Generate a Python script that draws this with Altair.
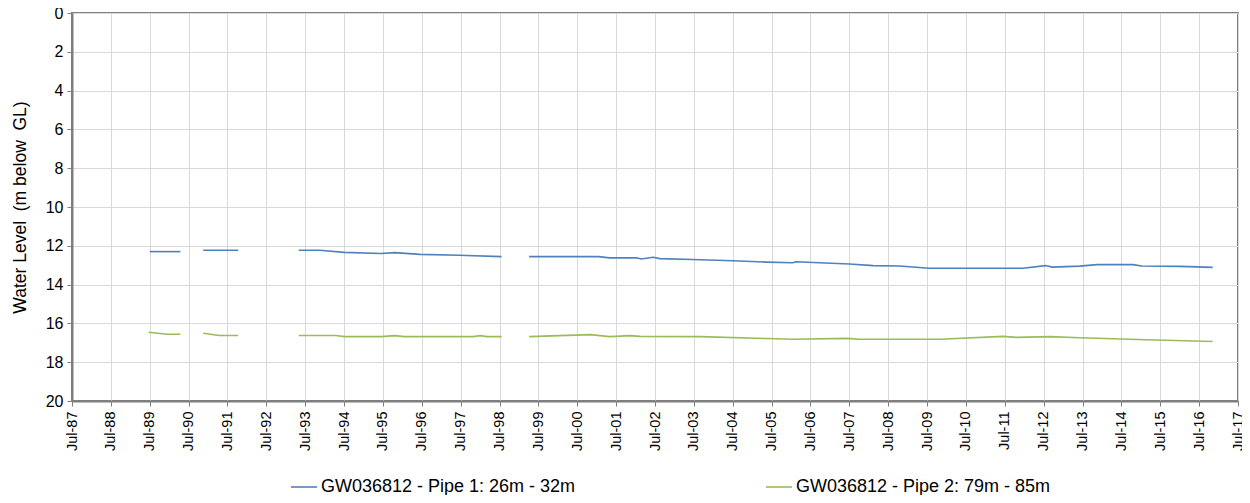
import altair as alt
import pandas as pd

# Pipe 1 (26m - 32m) segments: dates and water level (m below GL)
p1_seg = [1, 1, 2, 2,
          3, 3, 3, 3, 3, 3, 3, 3,
          4, 4, 4, 4, 4, 4, 4, 4, 4, 4, 4, 4, 4, 4, 4, 4, 4, 4, 4, 4, 4, 4, 4, 4, 4]
p1_date = ["1989-07-01", "1990-04-15", "1990-11-15", "1991-10-10",
           "1993-05-01", "1993-11-15", "1994-07-01", "1995-06-15", "1995-10-20", "1996-06-15", "1997-06-15", "1998-07-20",
           "1999-04-05", "2001-01-15", "2001-05-01", "2002-01-10", "2002-02-20", "2002-06-15", "2002-08-15",
           "2003-06-15", "2004-07-01", "2005-05-15", "2006-01-15", "2006-02-15", "2007-07-01", "2008-02-10",
           "2008-10-15", "2009-07-20", "2011-12-20", "2012-07-15", "2012-09-20", "2013-06-01", "2013-11-15",
           "2014-10-15", "2015-01-10", "2016-01-01", "2016-11-05"]
p1_val = [12.30, 12.30, 12.23, 12.23,
          12.23, 12.23, 12.34, 12.40, 12.35, 12.44, 12.49, 12.56,
          12.56, 12.56, 12.62, 12.62, 12.68, 12.59, 12.66,
          12.71, 12.77, 12.84, 12.87, 12.82, 12.94, 13.02,
          13.04, 13.16, 13.16, 13.02, 13.10, 13.05, 12.97,
          12.97, 13.04, 13.06, 13.11]

# Pipe 2 (79m - 85m) segments
p2_seg = [1, 1, 1, 2, 2, 2,
          3, 3, 3, 3, 3, 3, 3, 3, 3, 3,
          4, 4, 4, 4, 4, 4, 4, 4, 4, 4, 4, 4, 4, 4, 4, 4, 4, 4]
p2_date = ["1989-06-20", "1989-12-10", "1990-04-15", "1990-11-15", "1991-04-15", "1991-10-10",
           "1993-05-01", "1994-04-15", "1994-07-01", "1995-06-15", "1995-10-20", "1996-01-20",
           "1997-10-25", "1998-01-01", "1998-03-05", "1998-07-20",
           "1999-04-05", "2000-01-15", "2000-11-01", "2001-05-01", "2001-11-10", "2002-02-10",
           "2003-09-01", "2005-05-15", "2006-01-20", "2007-06-10", "2007-10-10", "2009-10-30",
           "2011-06-15", "2011-10-20", "2012-09-01", "2013-06-01", "2015-02-20", "2016-11-05"]
p2_val = [16.46, 16.56, 16.56, 16.51, 16.62, 16.62,
          16.62, 16.62, 16.68, 16.68, 16.63, 16.68,
          16.68, 16.63, 16.68, 16.68,
          16.68, 16.63, 16.58, 16.68, 16.63, 16.67,
          16.68, 16.78, 16.82, 16.77, 16.82, 16.82,
          16.67, 16.72, 16.68, 16.74, 16.84, 16.93]

series_names = ["GW036812 - Pipe 1: 26m - 32m", "GW036812 - Pipe 2: 79m - 85m"]
series_colors = ["#4f81bd", "#9bbb59"]
y_ticks = list(range(0, 21, 2))
x_tick_years = list(range(1987, 2018))
y_title = "Water Level\u00a0\u00a0(m below\u00a0\u00a0GL)"

df = pd.concat([
    pd.DataFrame({"series": series_names[0], "seg": [f"a{s}" for s in p1_seg],
                  "date": p1_date, "level": p1_val}),
    pd.DataFrame({"series": series_names[1], "seg": [f"b{s}" for s in p2_seg],
                  "date": p2_date, "level": p2_val}),
], ignore_index=True)

def ms(y, m=7, d=1):
    return int(pd.Timestamp(year=y, month=m, day=d, tz="UTC").timestamp() * 1000)

x_vals = [ms(y) for y in x_tick_years]

chart = alt.Chart(df).mark_line(strokeWidth=1.6).encode(
    x=alt.X("date:T",
            scale=alt.Scale(type="utc", domain=[ms(1987), ms(2017)], nice=False),
            axis=alt.Axis(values=x_vals, labelExpr="utcFormat(datum.value, '%b-%y')",
                          labelAngle=-90, title=None, labelFontSize=14.5, tickSize=5,
                          labelPadding=5, grid=True, labelOverlap=False, labelBound=False)),
    y=alt.Y("level:Q",
            scale=alt.Scale(domain=[0, 20], reverse=True, nice=False, zero=False),
            axis=alt.Axis(values=y_ticks, title=y_title,
                          labelFontSize=16, titleFontSize=17.5, titleFontWeight="normal",
                          tickSize=5, labelPadding=4, titlePadding=16)),
    color=alt.Color("series:N",
                    scale=alt.Scale(domain=series_names, range=series_colors),
                    legend=alt.Legend(title=None, orient="none", direction="horizontal",
                                      legendX=218, legendY=460, symbolType="stroke",
                                      symbolSize=680, symbolStrokeWidth=1.6, labelOffset=3,
                                      labelFontSize=18, columnPadding=186, labelLimit=400)),
    detail="seg:N",
).properties(
    width=1166, height=388,
    autosize=alt.AutoSizeParams(type="none"),
    padding={"left": 64, "top": 5, "right": 4, "bottom": 94},
).configure(
    font="Liberation Sans",
).configure_axis(
    gridColor="#d9d9d9", gridWidth=1, domainColor="#7f7f7f", domainWidth=2,
    tickColor="#7f7f7f", labelColor="#000000", titleColor="#000000",
).configure_view(
    stroke="#7f7f7f", strokeWidth=2,
).configure_legend(
    labelColor="#000000",
)

chart.save("out.html", embed_options={"renderer": "svg", "actions": False})
